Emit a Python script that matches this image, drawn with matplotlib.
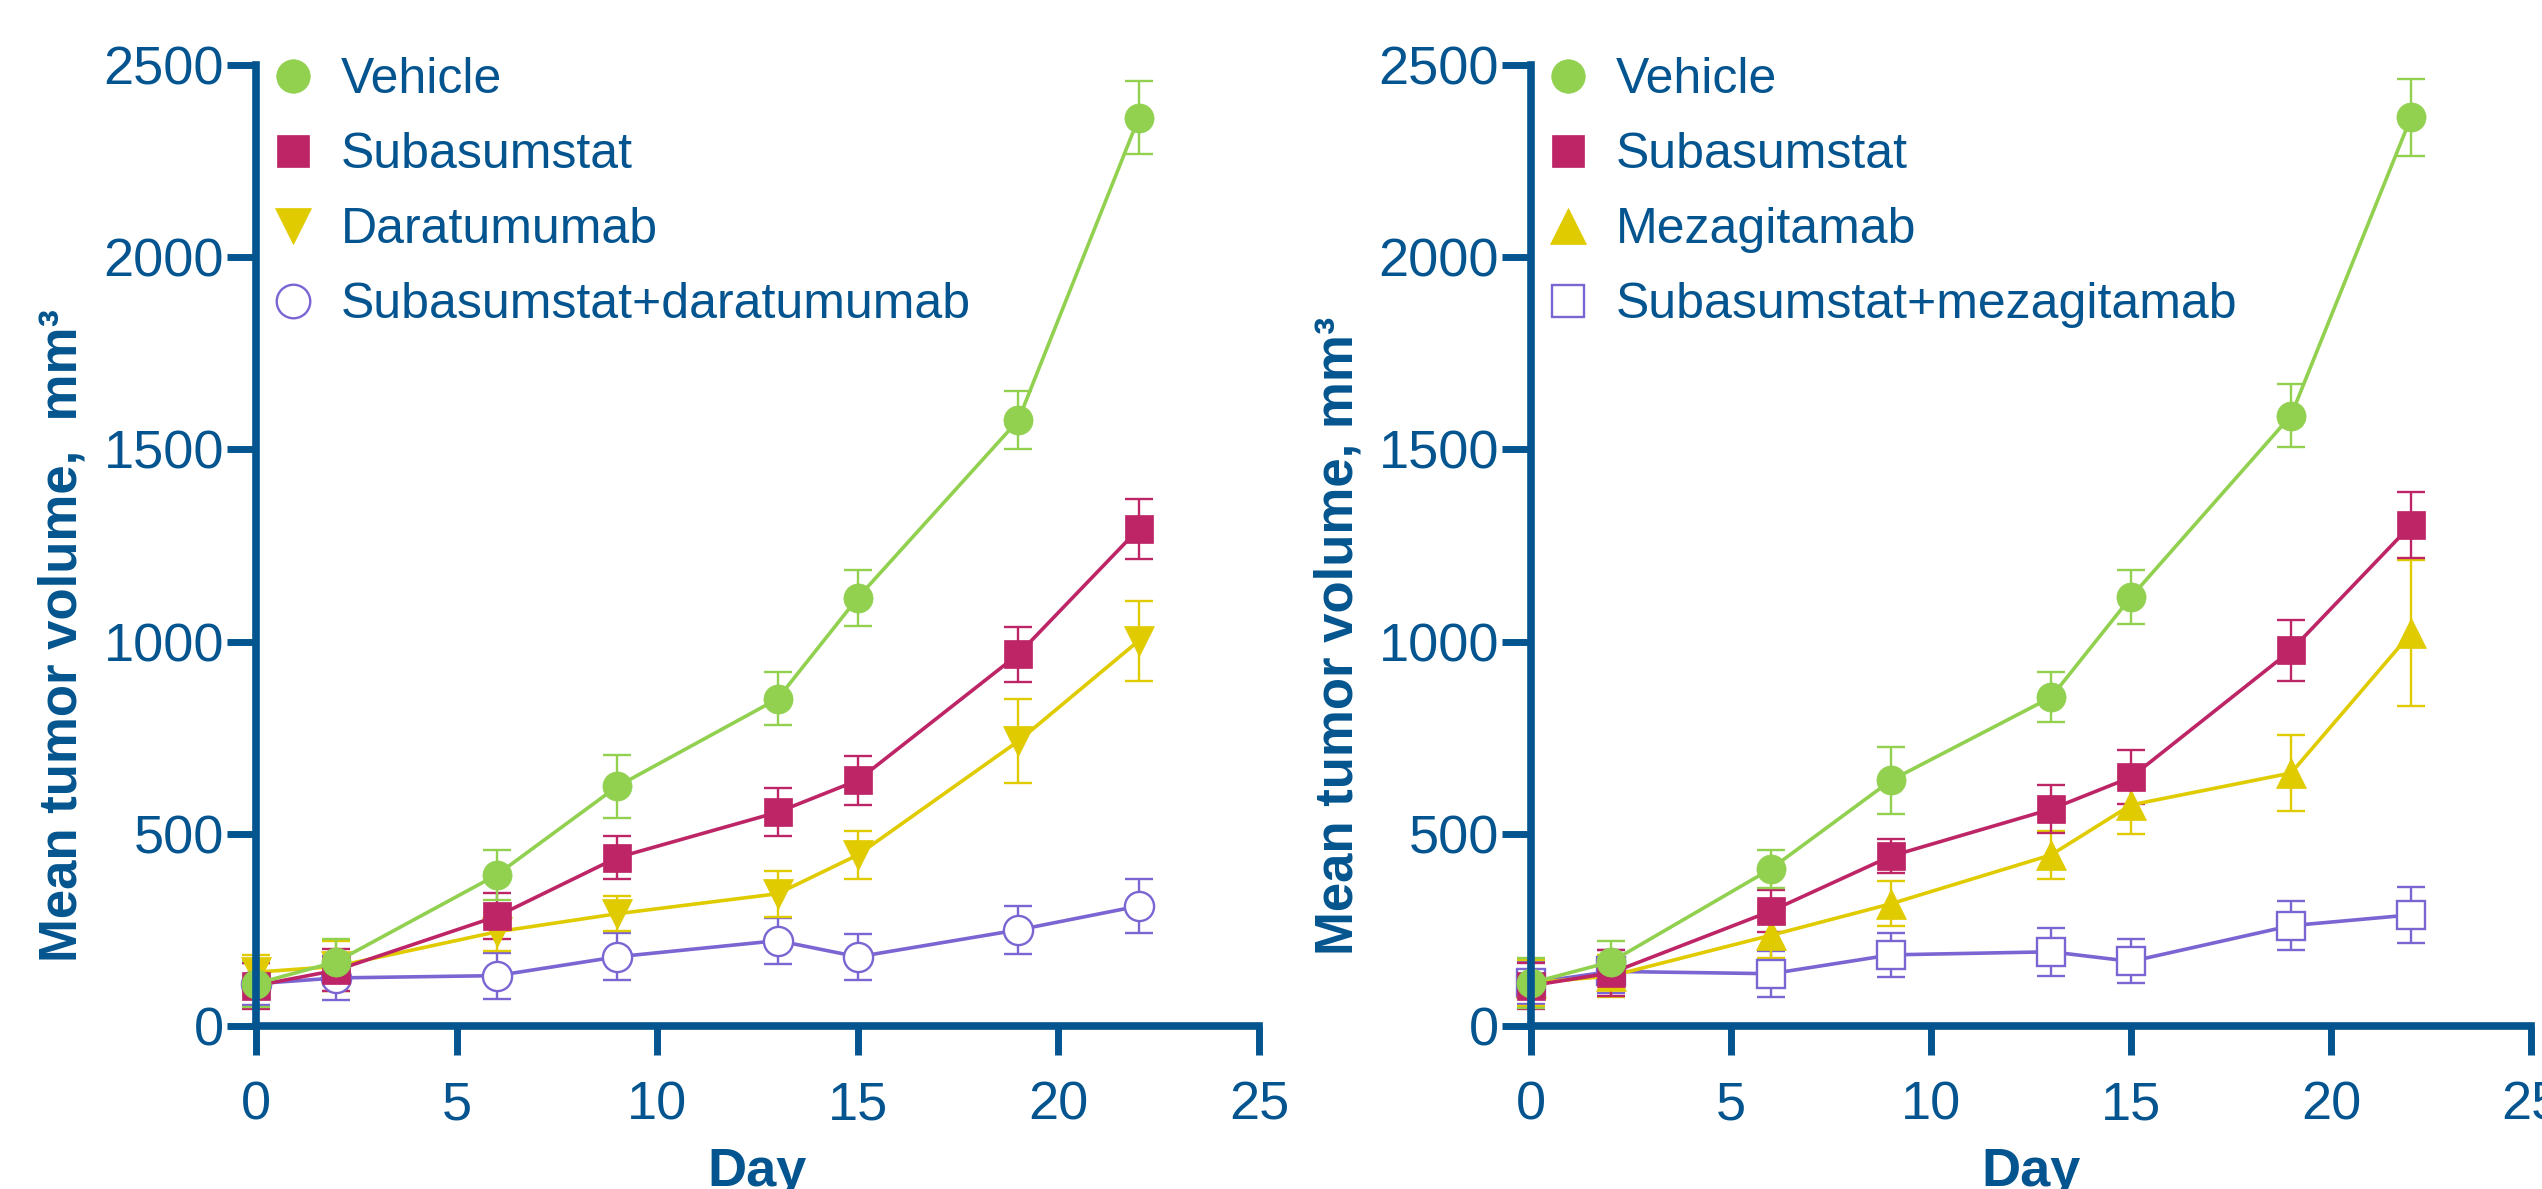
import matplotlib

matplotlib.use("Agg")
import matplotlib.pyplot as plt  # noqa: E402
from matplotlib.lines import Line2D  # noqa: E402

plt.rcParams["font.family"] = ["Liberation Sans", "DejaVu Sans"]

# --- data ---
days = [0, 2, 6, 9, 13, 15, 19, 22]

# left panel: daratumumab study
veh_L = [110, 167, 393, 623, 851, 1114, 1576, 2362]
veh_L_err = [60, 60, 65, 82, 69, 73, 75, 95]
sub_L = [105, 145, 285, 438, 556, 639, 967, 1293]
sub_L_err = [60, 55, 60, 55, 63, 64, 71, 77]
dara = [140, 155, 245, 292, 344, 445, 741, 1002]
dara_err = [45, 65, 50, 45, 60, 62, 110, 104]
combo_L = [110, 125, 131, 180, 222, 180, 250, 312]
combo_L_err = [55, 58, 60, 61, 60, 60, 63, 70]

# right panel: mezagitamab study
veh_R = [112, 167, 409, 639, 855, 1116, 1588, 2364]
veh_R_err = [65, 55, 50, 87, 65, 70, 83, 100]
sub_R = [105, 138, 299, 442, 564, 647, 977, 1303]
sub_R_err = [60, 60, 55, 45, 62, 70, 79, 86]
meza = [112, 130, 236, 318, 445, 575, 658, 1022]
meza_err = [60, 55, 60, 58, 62, 75, 100, 190]
combo_R = [112, 142, 136, 185, 193, 168, 261, 289]
combo_R_err = [55, 55, 60, 58, 62, 57, 63, 72]

labels_L = ["Vehicle", "Subasumstat", "Daratumumab", "Subasumstat+daratumumab"]
labels_R = ["Vehicle", "Subasumstat", "Mezagitamab", "Subasumstat+mezagitamab"]
ylabel_L = "Mean tumor volume,  mm\u00b3"
ylabel_R = "Mean tumor volume, mm\u00b3"

BLUE = "#04558f"
GREEN = "#92d050"
MAGENTA = "#bd2566"
YELLOW = "#e0cb00"
PURPLE = "#7b65d3"


def series(ax, y, err, color, marker, ms, open_marker=False):
    cont = ax.errorbar(
        days, y, yerr=err, color=color, marker=marker, ms=ms, lw=2.6,
        mfc="white" if open_marker else color, mec=color,
        elinewidth=1.7, capsize=10, capthick=1.7,
    )
    cont.lines[0].set_markeredgewidth(1.7 if open_marker else 0.5)
    for art in cont.get_children():
        art.set_clip_on(False)


def panel(ax, rows, labels, ylabel):
    for y, err, color, marker, ms, op in rows:
        series(ax, y, err, color, marker, ms, op)

    ax.set_xlim(0, 25)
    ax.set_ylim(0, 2500)
    ax.set_xticks([0, 5, 10, 15, 20, 25])
    ax.set_yticks([0, 500, 1000, 1500, 2000, 2500])
    for s in ("top", "right"):
        ax.spines[s].set_visible(False)
    for s in ("left", "bottom"):
        ax.spines[s].set_linewidth(5.5)
        ax.spines[s].set_color(BLUE)
    ax.tick_params(direction="out", length=21, width=5, color=BLUE,
                   labelcolor=BLUE, labelsize=39)
    ax.tick_params(axis="x", pad=18)
    ax.tick_params(axis="y", pad=2)

    ax.set_ylabel(ylabel, fontsize=38, fontweight="bold", color=BLUE)
    ax.yaxis.set_label_coords(-0.168, 0.406)
    ax.set_xlabel("Day", fontsize=39, fontweight="bold", color=BLUE)
    ax.xaxis.label.set_va("baseline")
    ax.xaxis.set_label_coords(0.5, -0.167)

    # legend order: vehicle, subasumstat, single agent, combo
    handles = []
    for y, err, color, marker, ms, op in rows[::-1]:
        handles.append(Line2D([], [], ls="none", marker=marker, ms=ms * 1.15,
                              color=color, mfc="white" if op else color,
                              mec=color, mew=1.7 if op else 0.5))
    leg = ax.legend(handles, labels, loc="upper left", bbox_to_anchor=(0.012, 1.008),
                    frameon=False, fontsize=36, handlelength=1.0, handletextpad=0.45,
                    labelspacing=0.58, borderpad=0, borderaxespad=0)
    for t in leg.get_texts():
        t.set_color(BLUE)


fig = plt.figure(figsize=(25.42, 11.89), dpi=100)
ax1 = fig.add_axes([0.1007, 0.1371, 0.3946, 0.8083])
ax2 = fig.add_axes([0.6023, 0.1371, 0.3934, 0.8083])

panel(ax1, [
    (combo_L, combo_L_err, PURPLE, "o", 21, True),
    (dara, dara_err, YELLOW, "v", 22, False),
    (sub_L, sub_L_err, MAGENTA, "s", 20, False),
    (veh_L, veh_L_err, GREEN, "o", 21, False),
], labels_L, ylabel_L)

panel(ax2, [
    (combo_R, combo_R_err, PURPLE, "s", 20, True),
    (meza, meza_err, YELLOW, "^", 22, False),
    (sub_R, sub_R_err, MAGENTA, "s", 20, False),
    (veh_R, veh_R_err, GREEN, "o", 21, False),
], labels_R, ylabel_R)

fig.savefig("out.png", dpi=100)
